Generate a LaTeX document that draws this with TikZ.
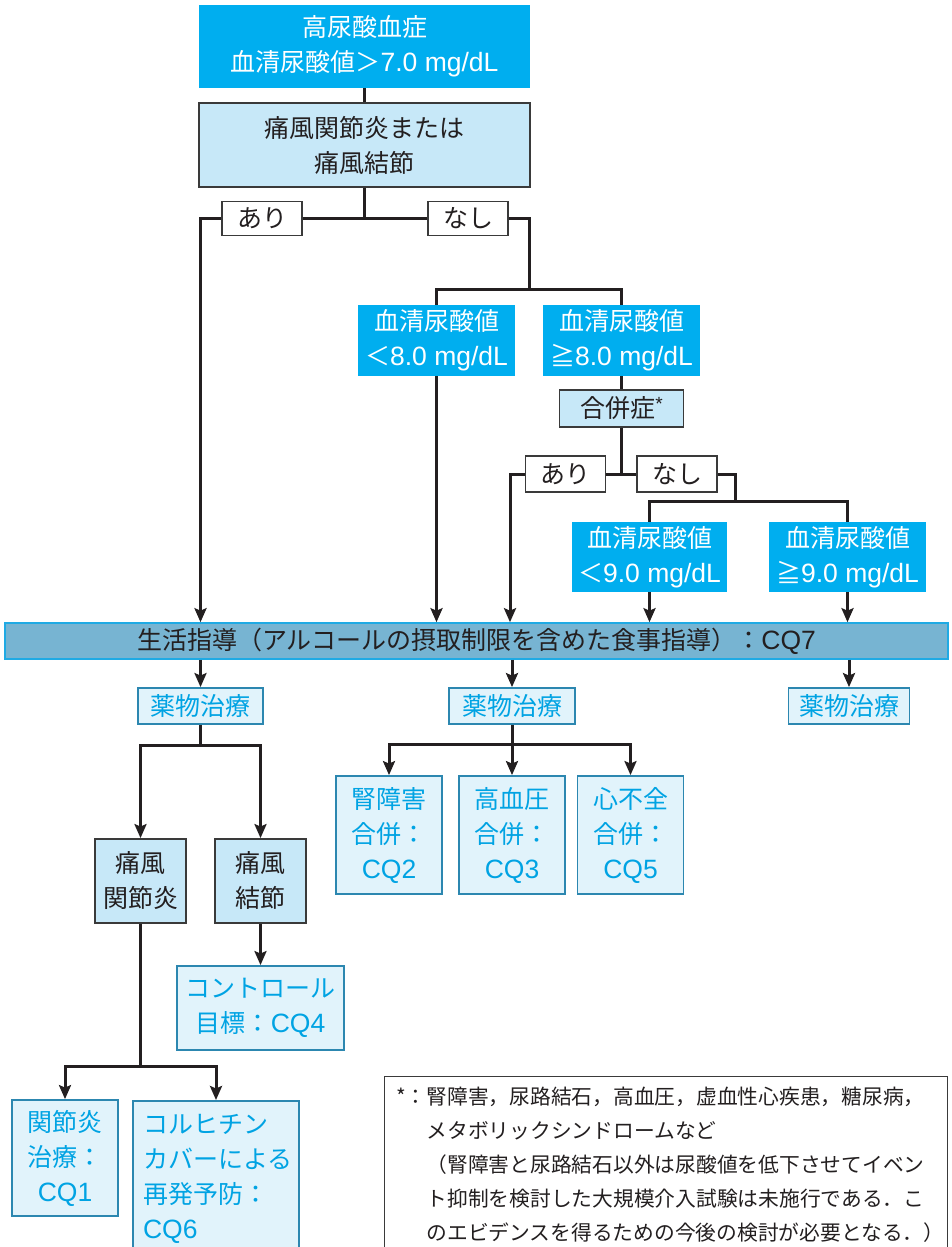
\documentclass[tikz,border=0pt]{standalone}
\usepackage{fontspec}
\setmainfont{Noto Sans CJK JP}
\newfontfamily\latinfont[Scale=1.06]{Liberation Sans}
\usetikzlibrary{arrows.meta}
\definecolor{hiblue}{HTML}{00AEEF}
\definecolor{paleblue}{HTML}{C7E8F8}
\definecolor{boxline}{HTML}{3A3A3A}
\definecolor{ink}{HTML}{231F20}
\definecolor{barfill}{HTML}{77B4D2}
\definecolor{barline}{HTML}{1FAAE4}
\definecolor{drugfill}{HTML}{E1F3FB}
\definecolor{drugline}{HTML}{2C87B0}
\definecolor{drugtext}{HTML}{00A3E3}
\begin{document}
\begin{tikzpicture}[x=1pt,y=-1pt,
  every node/.style={inner sep=0pt,align=center,font=\fontsize{25}{35}\selectfont},
  hi/.style={fill=hiblue,text=white},
  pale/.style={fill=paleblue,draw=boxline,line width=1.8pt,text=ink},
  tag/.style={fill=white,draw=boxline,line width=1.8pt,text=ink,minimum width=80pt,minimum height=34pt},
  drug/.style={fill=drugfill,draw=drugline,line width=1.8pt,text=drugtext},
  barbox/.style={fill=barfill,draw=barline,line width=1.6pt,text=ink},
  notebox/.style={draw=boxline,line width=1.3pt},
  conn/.style={draw=ink,line width=3pt},
  arr/.style={conn,-{Stealth[length=14pt,width=12pt,inset=2.5pt]}}
]
\fill[white] (0,0) rectangle (951,1247);
\useasboundingbox (0,0) rectangle (951,1247);

% nodes
\node[hi,minimum width=331pt,minimum height=83pt] (top) at (364.5,46.5) {高尿酸血症\\血清尿酸値＞{\latinfont 7.0 mg/dL}};
\node[pale,minimum width=331pt,minimum height=84pt] (gout) at (364.5,145) {痛風関節炎または\\痛風結節};
\node[tag] (ari1) at (262,218.5) {あり};
\node[tag] (nashi1) at (468,218.5) {なし};
\node[hi,minimum width=157pt,minimum height=71pt] (lt8) at (436.5,340.5) {血清尿酸値\\＜{\latinfont 8.0 mg/dL}};
\node[hi,minimum width=157pt,minimum height=71pt] (ge8) at (621.5,340.5) {血清尿酸値\\≧{\latinfont 8.0 mg/dL}};
\node[pale,minimum width=124pt,minimum height=37pt] (comp) at (621.5,408.5) {合併症\raisebox{0.3em}{\fontsize{18}{18}\selectfont\latinfont *}};
\node[tag,minimum height=36pt] (ari2) at (565.5,474) {あり};
\node[tag,minimum height=36pt] (nashi2) at (677,474) {なし};
\node[hi,minimum width=155pt,minimum height=70pt] (lt9) at (649.5,557) {血清尿酸値\\＜{\latinfont 9.0 mg/dL}};
\node[hi,minimum width=157pt,minimum height=70pt] (ge9) at (847.5,557) {血清尿酸値\\≧{\latinfont 9.0 mg/dL}};
\node[barbox,minimum width=943pt,minimum height=36pt] (bar) at (476.5,641) {生活指導（アルコールの摂取制限を含めた食事指導）：{\latinfont CQ7}};
\node[drug,minimum width=125pt,minimum height=36pt] (drug1) at (200.5,706) {薬物治療};
\node[drug,minimum width=126pt,minimum height=36pt] (drug2) at (512,706) {薬物治療};
\node[drug,minimum width=121pt,minimum height=36pt] (drug3) at (849,706) {薬物治療};
\node[drug,minimum width=106pt,minimum height=118pt] (cq2) at (389,835) {腎障害\\合併：\\{\latinfont CQ2}};
\node[drug,minimum width=106pt,minimum height=118pt] (cq3) at (512,835) {高血圧\\合併：\\{\latinfont CQ3}};
\node[drug,minimum width=106pt,minimum height=118pt] (cq5) at (630.5,835) {心不全\\合併：\\{\latinfont CQ5}};
\node[pale,minimum width=91pt,minimum height=84pt] (kansetsu) at (140.5,881) {痛風\\関節炎};
\node[pale,minimum width=91pt,minimum height=84pt] (kessetsu) at (260.5,881) {痛風\\結節};
\node[drug,minimum width=167pt,minimum height=84pt] (control) at (260.5,1008) {コントロール\\目標：{\latinfont CQ4}};
\node[drug,minimum width=106pt,minimum height=116pt] (cq1) at (65,1158) {関節炎\\治療：\\{\latinfont CQ1}};
\node[drug,anchor=north,text width=146pt,inner xsep=10pt,inner ysep=13pt,align=left] (cq6) at (216,1100) {コルヒチン\\カバーによる\\再発予防：\\{\latinfont CQ6}};
\node[notebox,minimum width=563pt,minimum height=185pt,anchor=north west] (note) at (384,1076) {};
\node[anchor=north west,align=left,font=\fontsize{20.75}{34}\selectfont,text=ink] (notetext) at (396,1087) {*：腎障害，尿路結石，高血圧，虚血性心疾患，糖尿病，\\\phantom{*：}メタボリックシンドロームなど\\\phantom{*：}（腎障害と尿路結石以外は尿酸値を低下させてイベン\\\phantom{*：}ト抑制を検討した大規模介入試験は未施行である．こ\\\phantom{*：}のエビデンスを得るための今後の検討が必要となる．）};

% junction coordinates
\coordinate (k1) at (529,289);
\coordinate (k2) at (510,474);
\coordinate (k3) at (735,501);
\coordinate (k4) at (200.5,745);
\coordinate (k5) at (512,744);
\coordinate (k6) at (140.5,1066);

% connectors
\draw[conn] (top.south) -- (gout.north);
\draw[conn] (gout.south) |- (ari1.east);
\draw[conn] (gout.south) |- (nashi1.west);
\draw[arr] (ari1.west) -| (bar.north -| drug1.north);
\draw[conn] (nashi1.east) -| (k1);
\draw[conn] (lt8.north) |- (k1);
\draw[conn] (ge8.north) |- (k1);
\draw[arr] (lt8.south) -- (lt8.south |- bar.north);
\draw[conn] (ge8.south) -- (comp.north);
\draw[conn] (comp.south) |- (ari2.east);
\draw[conn] (comp.south) |- (nashi2.west);
\draw[arr] (ari2.west) -| (k2 |- bar.north);
\draw[conn] (nashi2.east) -| (k3);
\draw[conn] (lt9.north) |- (k3);
\draw[conn] (ge9.north) |- (k3);
\draw[arr] (lt9.south) -- (lt9.south |- bar.north);
\draw[arr] (ge9.south) -- (ge9.south |- bar.north);
\draw[arr] (bar.south -| drug1.north) -- (drug1.north);
\draw[arr] (bar.south -| drug2.north) -- (drug2.north);
\draw[arr] (bar.south -| drug3.north) -- (drug3.north);
\draw[conn] (drug1.south) -- (k4);
\draw[arr] (k4) -| (kansetsu.north);
\draw[arr] (k4) -| (kessetsu.north);
\draw[conn] (drug2.south) -- (k5);
\draw[arr] (k5) -| (cq2.north);
\draw[arr] (k5) -- (cq3.north);
\draw[arr] (k5) -| (cq5.north);
\draw[arr] (kessetsu.south) -- (control.north);
\draw[conn] (kansetsu.south) -- (k6);
\draw[arr] (k6) -| (cq1.north);
\draw[arr] (k6) -| (cq6.north);
\end{tikzpicture}
\end{document}
